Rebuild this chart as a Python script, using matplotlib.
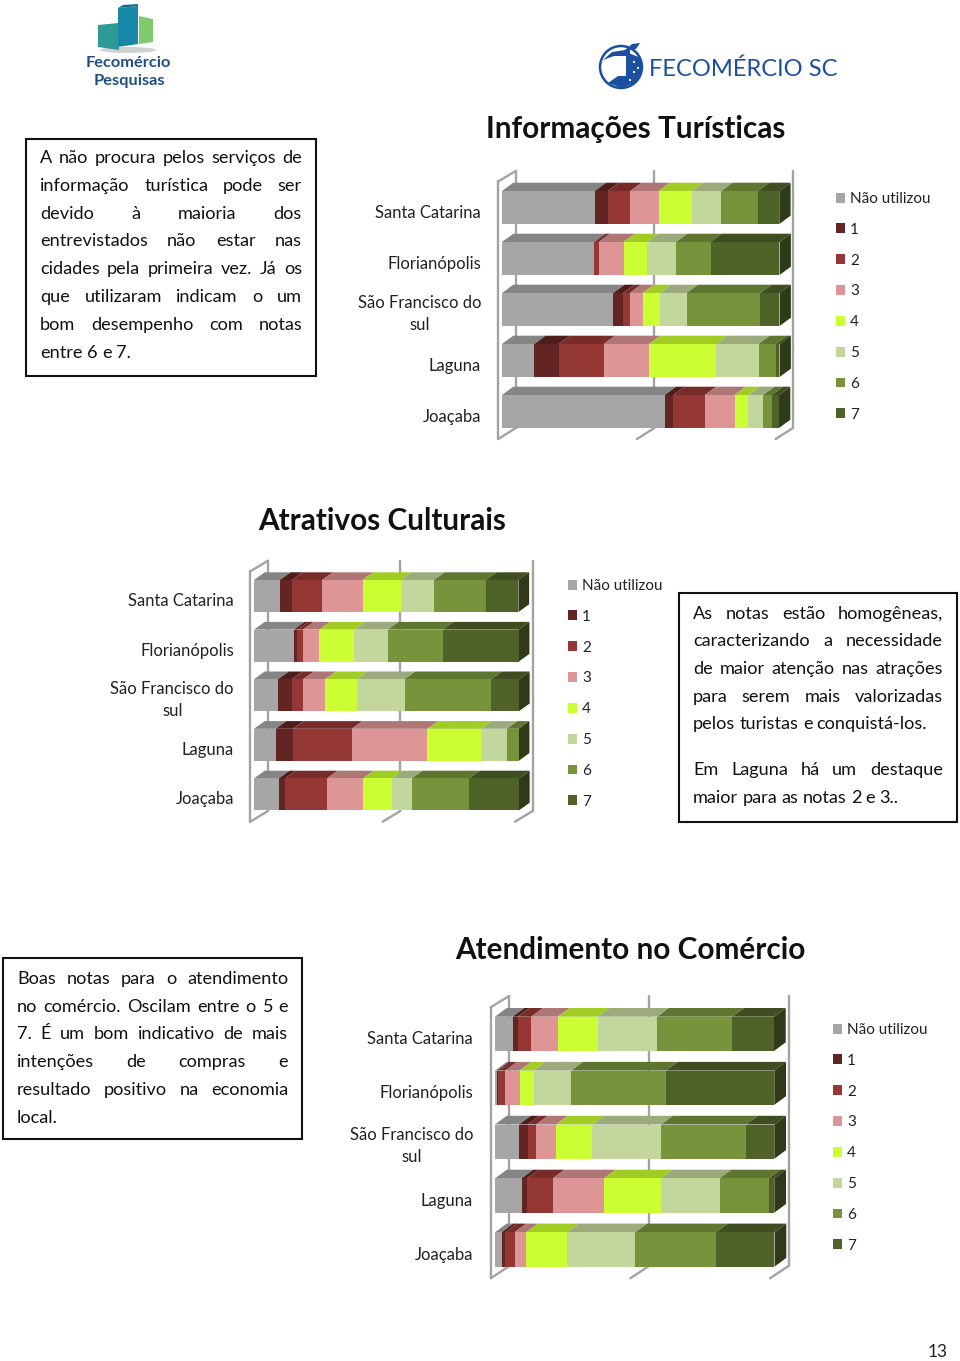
import matplotlib
matplotlib.use('Agg')
import matplotlib.pyplot as plt
from matplotlib.patches import Polygon, Rectangle, Circle, Ellipse

plt.rcParams['font.family'] = ['Lato', 'DejaVu Sans']

series_names = ['Não utilizou', '1', '2', '3', '4', '5', '6', '7']
cities = ['Santa Catarina', 'Florianópolis', 'São Francisco do\nsul', 'Laguna', 'Joaçaba']

face_colors = ['#A6A6A6', '#632523', '#953735', '#DD9695', '#CCFF33', '#C3D69B', '#77933C', '#4F6228']
top_colors = ['#858585', '#4F1D1C', '#772C2A', '#AE7776', '#A0CC24', '#9CAB7C', '#5F7630', '#3F4E20']
side_color = '#2F3B18'
wall_color = '#A3A3A3'

# percentuais por cidade, na ordem de series_names
turismo_sc = [33.5, 4.6, 8.2, 10.2, 11.9, 10.7, 13.2, 7.7]
turismo_floripa = [33.1, 0.2, 1.6, 9.0, 8.4, 10.5, 12.4, 24.9]
turismo_sfs = [40.1, 3.6, 2.4, 4.6, 6.3, 9.6, 26.6, 6.9]
turismo_laguna = [11.7, 8.8, 16.2, 16.3, 24.2, 15.3, 6.3, 1.3]
turismo_joacaba = [58.7, 3.1, 11.4, 10.7, 4.9, 5.4, 3.1, 2.6]

cultura_sc = [9.8, 4.5, 11.5, 15.2, 14.4, 12.6, 19.6, 12.3]
cultura_floripa = [15.1, 1.3, 2.1, 6.2, 13.1, 12.8, 20.7, 28.7]
cultura_sfs = [9.1, 5.2, 4.3, 8.3, 12.0, 18.0, 32.7, 10.5]
cultura_laguna = [8.2, 6.5, 22.2, 28.6, 20.3, 9.7, 4.5, 0.0]
cultura_joacaba = [9.4, 2.3, 15.9, 13.6, 11.0, 7.4, 21.7, 18.8]

comercio_sc = [6.3, 1.9, 4.8, 9.5, 14.2, 21.4, 26.8, 15.0]
comercio_floripa = [0.7, 0.5, 2.5, 5.1, 5.0, 13.5, 33.9, 38.8]
comercio_sfs = [8.6, 3.1, 3.0, 7.2, 13.0, 24.6, 30.4, 10.1]
comercio_laguna = [9.5, 1.9, 9.3, 18.3, 20.3, 21.1, 17.7, 1.9]
comercio_joacaba = [2.4, 1.3, 3.3, 4.2, 14.6, 24.5, 28.9, 20.9]

texto_turismo = [
    'A não procura pelos serviços de',
    'informação turística pode ser',
    'devido à maioria dos',
    'entrevistados não estar nas',
    'cidades pela primeira vez. Já os',
    'que utilizaram indicam o um',
    'bom desempenho com notas',
]
fim_turismo = ['entre 6 e 7.']
texto_cultura = [
    'As notas estão homogêneas,',
    'caracterizando a necessidade',
    'de maior atenção nas atrações',
    'para serem mais valorizadas',
]
fim_cultura = ['pelos turistas e conquistá-los.']
texto_cultura2 = ['Em Laguna há um destaque']
fim_cultura2 = ['maior para as notas 2 e 3..']
texto_comercio = [
    'Boas notas para o atendimento',
    'no comércio. Oscilam entre o 5 e',
    '7. É um bom indicativo de mais',
    'intenções de compras e',
    'resultado positivo na economia',
]
fim_comercio = ['local.']

W, H = 960, 1361
fig = plt.figure(figsize=(W / 100, H / 100), dpi=100)
bg = fig.add_axes([0, 0, 1, 1])
bg.set_xlim(0, W)
bg.set_ylim(H, 0)
bg.axis('off')
renderer = fig.canvas.get_renderer()


def text_lines(justified, last, x0, x1, ys, size=13.1):
    # texto justificado: mede as palavras e distribui o espaco que sobra
    lines = [(t, True) for t in justified] + [(t, False) for t in last]
    for (line, just), y in zip(lines, ys):
        items = [bg.text(0, y + 6, w, fontsize=size, color='#111111', va='baseline')
                 for w in line.split()]
        widths = [t.get_window_extent(renderer).width for t in items]
        gap = (x1 - x0 - sum(widths)) / (len(items) - 1) if just else size * 0.33
        x = x0
        for t, w in zip(items, widths):
            t.set_x(x)
            x += w + gap


def draw_chart(rows, bar_x, row_top, spacing, bar_h, dx, dy, wall, legend_xy, label_pad):
    # bar_x em pixels, wall = (frente x, fundo x, topo y, base frente y, base fundo y)
    left, right = bar_x
    bottom = row_top + spacing * 5
    ax = fig.add_axes([left / W, 1 - bottom / H, (right - left) / W, spacing * 5 / H])
    ax.set_xlim(0, 100)
    ax.set_ylim(4.5, -0.5)
    ax.patch.set_visible(False)
    for s in ax.spines.values():
        s.set_visible(False)
    px_x = 100 / (right - left)
    px_y = 1 / spacing
    ddx, ddy = dx * px_x, dy * px_y
    h = bar_h * px_y

    # paredes do grafico 3D
    front_x, back_x, wall_top, foot_f, foot_b = wall
    yv = lambda p: (p - row_top) * px_y - 0.5
    fx = (front_x - left) * px_x
    bx = (back_x - left) * px_x
    kw = dict(color=wall_color, lw=1.7, clip_on=False, zorder=1, solid_capstyle='round')
    ax.plot([fx, fx], [yv(wall_top + (back_x - front_x) * 0.6), yv(foot_f)], **kw)
    ax.plot([fx, bx], [yv(wall_top + (back_x - front_x) * 0.6), yv(wall_top)], **kw)
    for v in [0, 50, 100]:
        ax.plot([bx + v, bx + v], [yv(wall_top), yv(foot_b)], **kw)
        ax.plot([fx + v, bx + v], [yv(foot_f), yv(foot_b)], **kw)

    y_pos = list(range(len(rows)))
    starts = [0.0] * len(rows)
    handles = []
    for k, name in enumerate(series_names):
        vals = [r[k] for r in rows]
        c = ax.barh(y_pos, vals, left=starts, height=h, color=face_colors[k],
                    label=name, zorder=3, linewidth=0)
        handles.append(c)
        for i, (s, v) in enumerate(zip(starts, vals)):
            ytop = i - h / 2
            ax.add_patch(Polygon([(s, ytop), (s + v, ytop), (s + v + ddx, ytop - ddy), (s + ddx, ytop - ddy)],
                                 closed=True, fc=top_colors[k], ec='none', clip_on=False, zorder=2))
        starts = [s + v for s, v in zip(starts, vals)]
    for i, s in enumerate(starts):
        ytop, ybot = i - h / 2, i + h / 2
        ax.add_patch(Polygon([(s, ytop), (s + ddx, ytop - ddy), (s + ddx, ybot - ddy), (s, ybot)],
                             closed=True, fc=side_color, ec='none', clip_on=False, zorder=2))

    ax.set_xticks([])
    # o rotulo de duas linhas fica um pouco mais acima
    label_y = [p + (0.0 if '\n' in c else 0.07) for p, c in zip(y_pos, cities)]
    ax.set_yticks(label_y, cities, fontsize=12.0, color='#222222',
                  linespacing=1.45, multialignment='center')
    ax.tick_params(axis='y', length=0, pad=label_pad * 0.72)

    ax.legend(handles=handles, loc='upper left', frameon=False, fontsize=11.0,
              bbox_to_anchor=(legend_xy[0] / W, 1 - legend_xy[1] / H),
              bbox_transform=fig.transFigure, borderaxespad=0, borderpad=0,
              handlelength=0.62, handleheight=0.62, handletextpad=0.3,
              labelspacing=1.1, labelcolor='#222222')
    return ax


draw_chart([turismo_sc, turismo_floripa, turismo_sfs, turismo_laguna, turismo_joacaba],
           (502, 779.3), 182, 51, 33, 11.3, 8.3, (498.3, 515.7, 171, 439, 428), (836, 192), 21)
draw_chart([cultura_sc, cultura_floripa, cultura_sfs, cultura_laguna, cultura_joacaba],
           (254, 518.7), 571.2, 49.6, 32, 10.7, 7.7, (250.3, 268, 560.7, 821.7, 811), (568, 579), 20)
draw_chart([comercio_sc, comercio_floripa, comercio_sfs, comercio_laguna, comercio_joacaba],
           (495, 774.3), 1006.9, 53.9, 34.3, 11.7, 8.7, (490.7, 509.3, 996, 1278.3, 1266), (833, 1023), 22)

# titulos
title_kw = dict(fontsize=21.4, fontweight='bold', ha='center', va='center', color='#111111')
bg.text(636, 128.5, 'Informações Turísticas', **title_kw)
bg.text(382, 520.5, 'Atrativos Culturais', **title_kw)
bg.text(630, 949.5, 'Atendimento no Comércio', **title_kw)

# caixas de texto
for x0, y0, x1, y1 in [(25.5, 138.5, 316, 375.5), (679, 593, 957, 822), (3, 958, 302, 1139)]:
    bg.add_patch(Rectangle((x0, y0), x1 - x0, y1 - y0, fc='white', ec='#111111', lw=1.5, zorder=0))

text_lines(texto_turismo, fim_turismo, 40, 302, [157, 185, 213, 240, 268, 296, 324, 352])
text_lines(texto_cultura, fim_cultura, 693, 943, [613, 640, 668, 696, 723])
text_lines(texto_cultura2, fim_cultura2, 693, 943, [769, 797])
text_lines(texto_comercio, fim_comercio, 17, 288, [978, 1006, 1033, 1061, 1089, 1117])

bg.text(938, 1352, '13', fontsize=12.5, ha='center', va='center', color='#222222')

# logo Fecomercio Pesquisas
bg.add_patch(Ellipse((128, 50), 56, 6, fc='#CFD2D2', ec='none'))
bg.add_patch(Polygon([(98, 25), (119, 23), (119, 50), (98, 47)], fc='#2E9A96', ec='none'))
bg.add_patch(Polygon([(118, 8), (138, 6), (138, 44), (118, 47)], fc='#1888A8', ec='none'))
bg.add_patch(Polygon([(118, 8), (123, 5), (138, 4), (138, 6)], fc='#0F6E8C', ec='none'))
bg.add_patch(Polygon([(139, 16), (153, 19), (153, 42), (139, 44)], fc='#7FCB6C', ec='none'))
bg.text(128.5, 63, 'Fecomércio', fontsize=11.8, fontweight='bold', color='#1F4E86', ha='center', va='center')
bg.text(129.5, 81, 'Pesquisas', fontsize=11.8, fontweight='bold', color='#1F4E86', ha='center', va='center')

# logo Fecomercio SC
logo_blue = '#1B4FA0'
bg.add_patch(Circle((621, 67), 21, fc='white', ec=logo_blue, lw=1.8))
bg.add_patch(Polygon([(608, 83), (618, 76), (626, 76), (626, 52), (641, 58), (642, 72), (636, 82), (622, 88)], fc=logo_blue, ec='none'))
bg.add_patch(Polygon([(603, 60), (612, 52), (625, 50), (632, 44), (640, 43), (636, 49), (630, 50), (630, 56), (614, 56)], fc=logo_blue, ec='none'))
for px, py in [(634, 62), (638, 68), (634, 72), (630, 80)]:
    bg.add_patch(Circle((px, py), 1.1, fc='white', ec='none'))
bg.text(649, 69.5, 'FECOMÉRCIO SC', fontsize=17.1, color=logo_blue, va='center')

fig.savefig('out.png', dpi=100)
